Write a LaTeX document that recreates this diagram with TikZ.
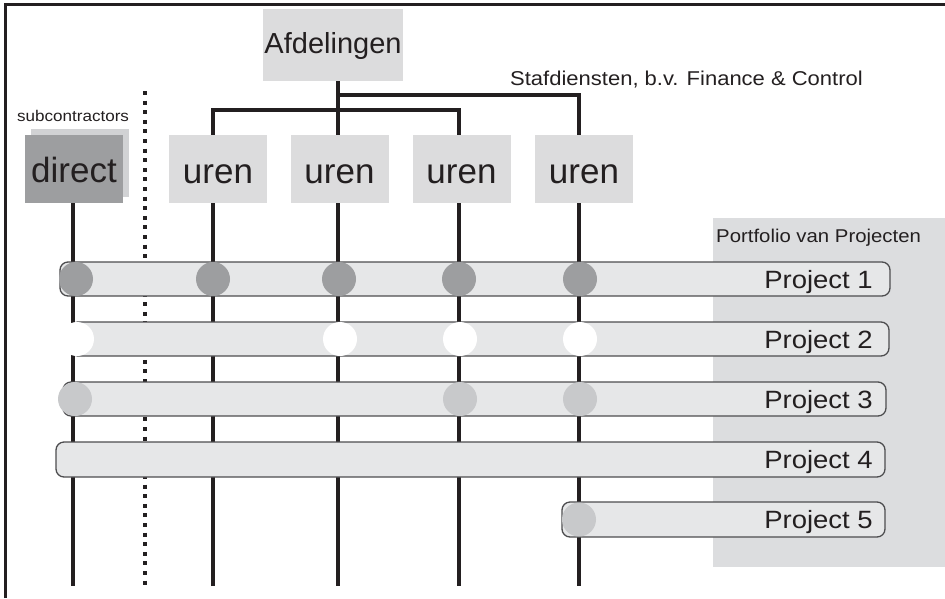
\documentclass[tikz,border=0pt]{standalone}
\usepackage{fontspec}
\setmainfont{Liberation Sans}
\newfontfamily\widesans{Liberation Sans}[FakeStretch=1.1]
\definecolor{inkc}{HTML}{231F20}
\definecolor{boxgray}{HTML}{DCDCDD}
\definecolor{darkbox}{HTML}{9D9EA0}
\definecolor{shadowbox}{HTML}{D1D2D4}
\definecolor{barfill}{HTML}{E6E7E8}
\definecolor{barline}{HTML}{4D4D4F}
\definecolor{dotdark}{HTML}{9D9EA0}
\definecolor{dotlight}{HTML}{C8C9CB}
\definecolor{portfolio}{HTML}{DCDDDF}
\begin{document}
\begin{tikzpicture}[x=1pt,y=-1pt,
  frame/.style={draw=inkc, line width=2.4pt, line join=miter},
  stem/.style={draw=inkc, line width=4pt, line join=miter},
  dotline/.style={draw=inkc, line width=4pt, dash pattern=on 4pt off 5.6pt},
  unitbox/.style={fill=boxgray, inner sep=0pt, minimum width=98pt, minimum height=68pt},
  bar/.style={fill=barfill, draw=barline, line width=1.3pt, rounded corners=8pt, inner sep=0pt, minimum height=34pt},
  disc/.style={circle, inner sep=0pt, minimum size=34pt},
  bigtxt/.style={text=inkc, anchor=base, inner sep=0pt, font=\fontsize{35}{40}\selectfont},
  projtxt/.style={text=inkc, anchor=base east, inner sep=0pt, font=\widesans\fontsize{25}{30}\selectfont},
]
\useasboundingbox (0,0) rectangle (945,598);

% portfolio background
\fill[portfolio] (713,218) rectangle (945,567);
\node[text=inkc, anchor=base west, inner sep=0pt, font=\widesans\fontsize{18.5}{22}\selectfont] (pf) at (716,242) {Portfolio van Projecten};

% outer frame
\draw[frame] (5.5,598) -- (5.5,4.5) -- (945,4.5);

% department head
\node[fill=boxgray, inner sep=0pt, minimum width=140pt, minimum height=72pt] (afd) at (333,45) {};
\node[text=inkc, anchor=base, inner sep=0pt, font=\fontsize{29}{34}\selectfont] (afdt) at (333,53) {Afdelingen};
\node[text=inkc, anchor=base west, inner sep=0pt, font=\widesans\fontsize{20}{24}\selectfont] (staf) at (510,85) {Stafdiensten, b.v. Finance \& Control};

% tree coordinates
\coordinate (a0) at (338,81);
\coordinate (b1) at (338,95);
\coordinate (b2) at (579,95);
\coordinate (c1) at (213,110);
\coordinate (c2) at (459,110);
\coordinate (e0) at (73,586);
\coordinate (e1) at (213,586);
\coordinate (e2) at (338,586);
\coordinate (e3) at (459,586);
\coordinate (e4) at (579,586);
\coordinate (d0) at (73,203);
\coordinate (dt) at (145,91);
\coordinate (db) at (145,590);

% tree and resource lines
\draw[stem] (a0) -- (e2);
\draw[stem] (b1) -- (b2) -- (e4);
\draw[stem] (e1) -- (c1) -- (c2) -- (e3);
\draw[stem] (d0) -- (e0);
\draw[dotline] (dt) -- (db);

% resource boxes
\node[fill=shadowbox, inner sep=0pt, minimum width=98pt, minimum height=68pt] (dsh) at (80,163) {};
\node[fill=darkbox, inner sep=0pt, minimum width=98pt, minimum height=68pt] (dir) at (74,169) {};
\node[bigtxt] (dirt) at (74,182) {direct};
\node[text=inkc, anchor=base west, inner sep=0pt, font=\widesans\fontsize{15.5}{18}\selectfont] (sub) at (17,121) {subcontractors};

\node[unitbox] (u1) at (218,169) {};
\node[unitbox] (u2) at (339.5,169) {};
\node[unitbox] (u3) at (461.5,169) {};
\node[unitbox] (u4) at (584,169) {};
\node[bigtxt] at (218,183) {uren};
\node[bigtxt] at (339.5,183) {uren};
\node[bigtxt] at (461.5,183) {uren};
\node[bigtxt] at (584,183) {uren};

% project bars
\node[bar, minimum width=830pt] (p1) at (475,279) {};
\node[bar, minimum width=819pt] (p2) at (479.5,339) {};
\node[bar, minimum width=823pt] (p3) at (474.5,399) {};
\node[bar, minimum width=829pt, minimum height=35pt] (p4) at (470.5,459.5) {};
\node[bar, minimum width=323pt, minimum height=35pt] (p5) at (723.5,519.5) {};

% allocations
\foreach \x in {76,213,339,459,580} \node[disc, fill=dotdark] at (\x,279) {};
\foreach \x in {77,340,460,580} \node[disc, fill=white] at (\x,339) {};
\foreach \x in {75,460,580} \node[disc, fill=dotlight] at (\x,399) {};
\node[disc, fill=dotlight] at (579,519.5) {};

\node[projtxt] at (873,288) {Project 1};
\node[projtxt] at (873,348) {Project 2};
\node[projtxt] at (873,408) {Project 3};
\node[projtxt] at (873,468) {Project 4};
\node[projtxt] at (873,528) {Project 5};
\end{tikzpicture}
\end{document}
